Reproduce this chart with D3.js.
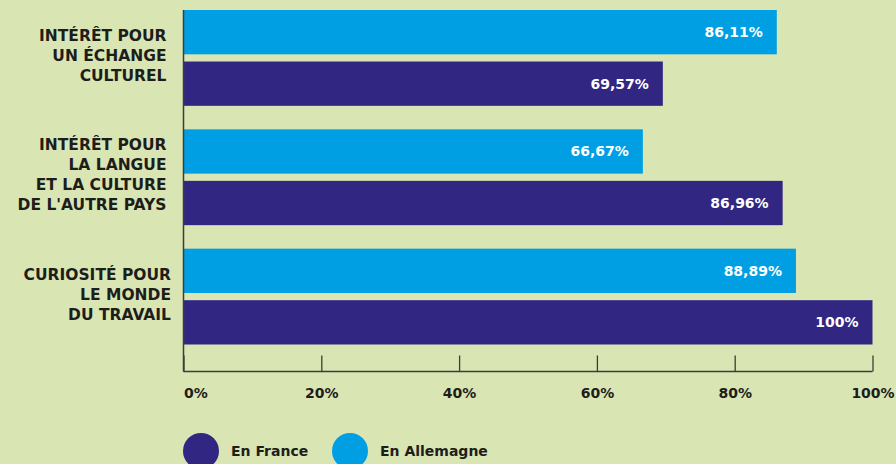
<!DOCTYPE html>
<html><head><meta charset="utf-8">
<script src="https://cdn.jsdelivr.net/npm/d3@7"></script>
<style>
html,body{margin:0;padding:0;background:#dae5b4;}
svg{display:block;}
text{font-family:"DejaVu Sans",sans-serif;font-weight:bold;}
</style></head>
<body>
<svg id="chart" width="896" height="464"></svg>
<script>
const categories = [
  ["INTÉRÊT POUR","UN ÉCHANGE","CULTUREL"],
  ["INTÉRÊT POUR","LA LANGUE","ET LA CULTURE","DE L'AUTRE PAYS"],
  ["CURIOSITÉ POUR","LE MONDE","DU TRAVAIL"]
];
const seriesNames = ["En Allemagne","En France"];
const allemagne = [86.11, 66.67, 88.89];
const france = [69.57, 86.96, 100];
const valueLabels = {"En Allemagne":["86,11%","66,67%","88,89%"],"En France":["69,57%","86,96%","100%"]};
const tickValues = [0,20,40,60,80,100];
const tickLabels = ["0%","20%","40%","60%","80%","100%"];
const legendOrder = ["En France","En Allemagne"];

const colors = {"En France":"#312783","En Allemagne":"#009fe3"};
const svg = d3.select("#chart");
const W=896,H=464;
svg.append("rect").attr("width",W).attr("height",H).attr("fill","#dae5b4");

const x = d3.scaleLinear().domain([0,100]).range([183.5,872.5]);
const y0 = d3.scaleBand().domain(d3.range(categories.length)).range([10,344.5]).paddingInner(0.197).paddingOuter(0);
const y1 = d3.scaleBand().domain(seriesNames).range([0,y0.bandwidth()]).paddingInner(0.14).paddingOuter(0);

const data = categories.map((c,i)=>({i, cat:c, vals:[
  {s:"En Allemagne", v:allemagne[i], label:valueLabels["En Allemagne"][i]},
  {s:"En France", v:france[i], label:valueLabels["En France"][i]}
]}));

const g = svg.selectAll("g.grp").data(data).join("g").attr("class","grp")
  .attr("transform",d=>`translate(0,${y0(d.i)})`);
g.selectAll("rect").data(d=>d.vals).join("rect")
  .attr("x",x(0)).attr("y",d=>y1(d.s)).attr("width",d=>x(d.v)-x(0)).attr("height",y1.bandwidth())
  .attr("fill",d=>colors[d.s]);
g.selectAll("text.val").data(d=>d.vals).join("text").attr("class","val")
  .attr("x",d=>x(d.v)-14).attr("y",d=>y1(d.s)+y1.bandwidth()/2)
  .attr("text-anchor","end").attr("dominant-baseline","central")
  .attr("fill","#fff").attr("font-size",14).text(d=>d.label);

// category labels
const lh = 20;
g.each(function(d){
  const n=d.cat.length;
  const cy = y0.bandwidth()/2 - 2;
  const t = d3.select(this).append("text").attr("text-anchor","end").attr("fill","#1d1d1b").attr("font-size",15.5);
  d.cat.forEach((line,k)=>{
    t.append("tspan").attr("x", d.i===2?171:166.5).attr("y", cy + (k-(n-1)/2)*lh).attr("dominant-baseline","central").text(line);
  });
});

// axes
const axisY = 371.5;
const xAxis = d3.axisBottom(x).tickValues(tickValues).tickFormat((d,i)=>tickLabels[i]).tickSize(-16).tickPadding(14);
const ax = svg.append("g").attr("transform",`translate(0,${axisY})`).call(xAxis);
ax.select(".domain").attr("d",`M${x(0)},0H${x(100)}`).attr("stroke","#3c3c3b").attr("stroke-width",1.5);
ax.selectAll(".tick line").attr("stroke","#3c3c3b").attr("stroke-width",1.3);
ax.selectAll(".tick text").attr("fill","#1d1d1b").attr("font-size",14).attr("font-family","DejaVu Sans").attr("font-weight","bold").attr("dy","0.9em");
ax.selectAll(".tick text").filter((d,i)=>i===0).attr("text-anchor","start").attr("x",0);
svg.append("line").attr("x1",x(0)).attr("x2",x(0)).attr("y1",10).attr("y2",axisY)
  .attr("stroke","#3c3c3b").attr("stroke-width",1.5);

// legend
const legX = [201,350];
const lg = svg.selectAll("g.leg").data(legendOrder).join("g").attr("class","leg")
  .attr("transform",(d,i)=>`translate(${legX[i]},451)`);
lg.append("circle").attr("r",18).attr("fill",d=>colors[d]);
lg.append("text").attr("x",30).attr("y",0).attr("dominant-baseline","central")
  .attr("fill","#1d1d1b").attr("font-size",14).attr("font-weight","600").text(d=>d);
</script>
</body></html>
